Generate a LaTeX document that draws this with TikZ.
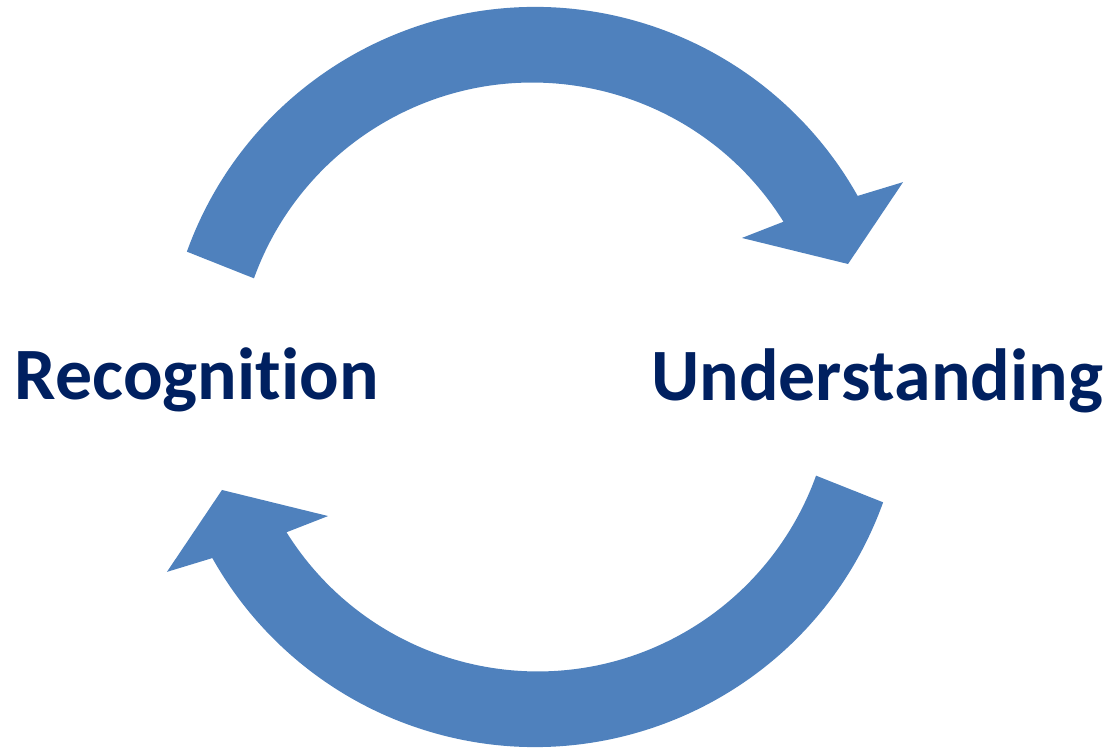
\documentclass[tikz,border=0pt]{standalone}
\usepackage{fontspec}
\setmainfont[RawFeature=-liga]{Carlito}
\definecolor{arrowblue}{HTML}{4F81BD}
\definecolor{textnavy}{HTML}{002060}
\begin{document}
\begin{tikzpicture}[x=0.025cm,y=0.025cm,
  cyclearrow/.style={fill=arrowblue,draw=none},
  label/.style={text=textnavy,font=\fontsize{52.5}{60}\selectfont\bfseries,inner sep=0pt,outer sep=0pt}]
\useasboundingbox (0,0) rectangle (1109,748);
\coordinate (c) at (535,371);
% upper arrow
\fill[cyclearrow] ([shift={(160.2:370)}]c) arc[start angle=160.2,end angle=29.3,radius=370]
  -- ([shift={(27.9:416.5)}]c) -- ([shift={(19.85:332.8)}]c) -- ([shift={(33.9:249.3)}]c)
  -- ([shift={(32.0:293)}]c) arc[start angle=32.0,end angle=160.2,radius=296] -- cycle;
% lower arrow
\fill[cyclearrow] ([shift={(-19.8:370)}]c) arc[start angle=-19.8,end angle=-150.7,radius=370]
  -- ([shift={(-152.1:416.5)}]c) -- ([shift={(-160.15:332.8)}]c) -- ([shift={(-146.1:249.3)}]c)
  -- ([shift={(-148.0:293)}]c) arc[start angle=-148.0,end angle=-19.8,radius=296] -- cycle;
\node[label,anchor=base west] (rec) at (15,348) {Recognition};
\node[label,anchor=base east] (und) at (1103,347) {Understanding};
\end{tikzpicture}
\end{document}
